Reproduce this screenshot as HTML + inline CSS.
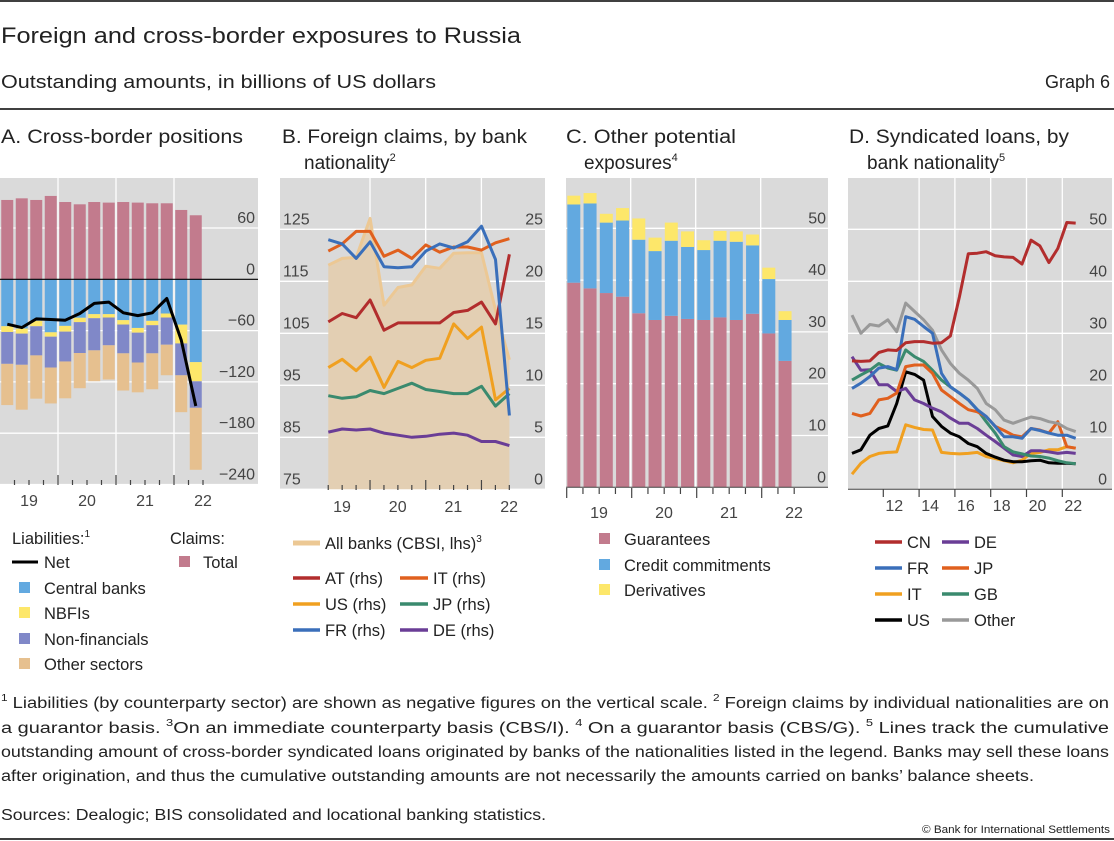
<!DOCTYPE html>
<html><head><meta charset="utf-8"><style>
html,body{margin:0;padding:0;background:#fff;}
svg{display:block;font-family:"Liberation Sans",sans-serif;}
.t{fill:#222;}
.ax{fill:#444;font-size:16px;}
</style></head><body>
<svg id="s" width="1114" height="841" viewBox="0 0 1114 841" xmlns="http://www.w3.org/2000/svg">
<line x1="0" y1="1" x2="1114" y2="1" stroke="#000" stroke-width="1.5"/>
<text x="1" y="43" font-size="22" class="t" textLength="520" lengthAdjust="spacingAndGlyphs">Foreign and cross-border exposures to Russia</text>
<text x="1" y="88" font-size="18" class="t" textLength="435" lengthAdjust="spacingAndGlyphs">Outstanding amounts, in billions of US dollars</text>
<text x="1110" y="88" font-size="18" class="t" text-anchor="end">Graph 6</text>
<line x1="0" y1="109" x2="1114" y2="109" stroke="#000" stroke-width="1.5"/>

<text x="1" y="143" font-size="19" class="t" textLength="242" lengthAdjust="spacingAndGlyphs">A. Cross-border positions</text>
<text x="282" y="143" font-size="19" class="t" textLength="245" lengthAdjust="spacingAndGlyphs">B. Foreign claims, by bank</text>
<text x="304" y="169" font-size="19" class="t">nationality<tspan font-size="11" dy="-8">2</tspan></text>
<text x="566" y="143" font-size="19" class="t" textLength="170" lengthAdjust="spacingAndGlyphs">C. Other potential</text>
<text x="584" y="169" font-size="19" class="t">exposures<tspan font-size="11" dy="-8">4</tspan></text>
<text x="849" y="143" font-size="19" class="t" textLength="220" lengthAdjust="spacingAndGlyphs">D. Syndicated loans, by</text>
<text x="867" y="169" font-size="19" class="t">bank nationality<tspan font-size="11" dy="-8">5</tspan></text>

<g id="charts"></g>

<!-- Legend A -->
<g>
<text x="12" y="544" font-size="16.5" class="t">Liabilities:<tspan font-size="10" dy="-7">1</tspan></text>
<text x="170" y="544" font-size="16.5" class="t">Claims:</text>
<line x1="12" y1="562" x2="38" y2="562" stroke="#000" stroke-width="3"/>
<text x="44" y="568" font-size="16.5" class="t">Net</text>
<rect x="19" y="582" width="11" height="11" fill="#62a9e0"/>
<text x="44" y="594" font-size="16.5" class="t">Central banks</text>
<rect x="19" y="607" width="11" height="11" fill="#fde76a"/>
<text x="44" y="619" font-size="16.5" class="t">NBFIs</text>
<rect x="19" y="633" width="11" height="11" fill="#8088c8"/>
<text x="44" y="645" font-size="16.5" class="t">Non-financials</text>
<rect x="19" y="658" width="11" height="11" fill="#e6c08f"/>
<text x="44" y="670" font-size="16.5" class="t">Other sectors</text>
<rect x="179" y="556" width="11" height="11" fill="#c27b8d"/>
<text x="203" y="568" font-size="16.5" class="t">Total</text>
</g>
<!-- Legend B -->
<g>
<line x1="293" y1="543" x2="320" y2="543" stroke="#ecc894" stroke-width="5"/>
<text x="325" y="549" font-size="16.5" class="t">All banks (CBSI, lhs)<tspan font-size="10" dy="-7">3</tspan></text>
<line x1="293" y1="578" x2="320" y2="578" stroke="#b22d2d" stroke-width="3.5"/>
<text x="325" y="584" font-size="16.5" class="t">AT (rhs)</text>
<line x1="293" y1="604" x2="320" y2="604" stroke="#f0a020" stroke-width="3.5"/>
<text x="325" y="610" font-size="16.5" class="t">US (rhs)</text>
<line x1="293" y1="630" x2="320" y2="630" stroke="#3a6fba" stroke-width="3.5"/>
<text x="325" y="636" font-size="16.5" class="t">FR (rhs)</text>
<line x1="400" y1="578" x2="428" y2="578" stroke="#e0601e" stroke-width="3.5"/>
<text x="433" y="584" font-size="16.5" class="t">IT (rhs)</text>
<line x1="400" y1="604" x2="428" y2="604" stroke="#3a8a6e" stroke-width="3.5"/>
<text x="433" y="610" font-size="16.5" class="t">JP (rhs)</text>
<line x1="400" y1="630" x2="428" y2="630" stroke="#6a3d96" stroke-width="3.5"/>
<text x="433" y="636" font-size="16.5" class="t">DE (rhs)</text>
</g>
<!-- Legend C -->
<g>
<rect x="599" y="533" width="11" height="11" fill="#c27b8d"/>
<text x="624" y="545" font-size="16.5" class="t">Guarantees</text>
<rect x="599" y="559" width="11" height="11" fill="#62a9e0"/>
<text x="624" y="571" font-size="16.5" class="t">Credit commitments</text>
<rect x="599" y="584" width="11" height="11" fill="#fde76a"/>
<text x="624" y="596" font-size="16.5" class="t">Derivatives</text>
</g>
<!-- Legend D -->
<g>
<line x1="875" y1="542" x2="902" y2="542" stroke="#b22d2d" stroke-width="3.5"/>
<text x="907" y="548" font-size="16.5" class="t">CN</text>
<line x1="875" y1="568" x2="902" y2="568" stroke="#3a6fba" stroke-width="3.5"/>
<text x="907" y="574" font-size="16.5" class="t">FR</text>
<line x1="875" y1="594" x2="902" y2="594" stroke="#f0a020" stroke-width="3.5"/>
<text x="907" y="600" font-size="16.5" class="t">IT</text>
<line x1="875" y1="620" x2="902" y2="620" stroke="#000" stroke-width="3.5"/>
<text x="907" y="626" font-size="16.5" class="t">US</text>
<line x1="942" y1="542" x2="969" y2="542" stroke="#6a3d96" stroke-width="3.5"/>
<text x="974" y="548" font-size="16.5" class="t">DE</text>
<line x1="942" y1="568" x2="969" y2="568" stroke="#e0601e" stroke-width="3.5"/>
<text x="974" y="574" font-size="16.5" class="t">JP</text>
<line x1="942" y1="594" x2="969" y2="594" stroke="#3a8a6e" stroke-width="3.5"/>
<text x="974" y="600" font-size="16.5" class="t">GB</text>
<line x1="942" y1="620" x2="969" y2="620" stroke="#999" stroke-width="3.5"/>
<text x="974" y="626" font-size="16.5" class="t">Other</text>
</g>

<g font-size="15.5" class="t">
<text x="1" y="708" textLength="1108" lengthAdjust="spacingAndGlyphs"><tspan font-size="10" dy="-7">1</tspan><tspan dy="7">  Liabilities (by counterparty sector) are shown as negative figures on the vertical scale.    </tspan><tspan font-size="10" dy="-7">2</tspan><tspan dy="7">  Foreign claims by individual nationalities are on</tspan></text>
<text x="1" y="733" textLength="1108" lengthAdjust="spacingAndGlyphs">a guarantor basis.   <tspan font-size="10" dy="-7">3</tspan><tspan dy="7">On an immediate counterparty basis (CBS/I).   </tspan><tspan font-size="10" dy="-7">4</tspan><tspan dy="7"> On a guarantor basis (CBS/G).   </tspan><tspan font-size="10" dy="-7">5</tspan><tspan dy="7"> Lines track the cumulative</tspan></text>
<text x="1" y="757" textLength="1108" lengthAdjust="spacingAndGlyphs">outstanding amount of cross-border syndicated loans originated by banks of the nationalities listed in the legend. Banks may sell these loans</text>
<text x="1" y="781" textLength="1033" lengthAdjust="spacingAndGlyphs">after origination, and thus the cumulative outstanding amounts are not necessarily the amounts carried on banks’ balance sheets.</text>
<text x="1" y="820" textLength="545" lengthAdjust="spacingAndGlyphs">Sources: Dealogic; BIS consolidated and locational banking statistics.</text>
</g>
<text x="1110" y="833" font-size="11" class="t" text-anchor="end" textLength="188" lengthAdjust="spacingAndGlyphs">© Bank for International Settlements</text>
<line x1="0" y1="839" x2="1114" y2="839" stroke="#000" stroke-width="1.5"/>
</svg>
<script>
// ---------- Panel A data ----------
const aYears = ["19","20","21","22"];
const aYTicks = [60,0,-60,-120,-180,-240];
const aClaims = [92.8,94.7,92.8,97.5,90.4,87.7,90.4,89.7,90.4,89.7,88.9,88.9,81.1,74.9];
const aCentral = [54.9,57.6,48.6,62,54.5,45,40.8,40.8,47.8,56.9,48.6,40,53,96.9];
const aNbfi = [6.7,5.9,6.3,5.1,6.7,5.1,4.7,3.9,5.1,5.5,5.1,4.7,22,22.4];
const aNonfin = [37.3,36.5,34.1,36.1,34.9,36.1,37.6,32.5,33.7,34.9,32.9,31.8,37.3,31];
const aOther = [48.2,52.5,50.6,42,43.1,41.2,36.1,40,43.5,34.9,42,35.7,43.1,72.5];
const aNet = [-52.5,-56.5,-46.3,-47,-47.8,-40,-28.2,-26.7,-39.2,-42.4,-39.2,-22.4,-71.4,-148.2];
// ---------- Panel B data ----------
const bYears = ["19","20","21","22"];
const bLTicks = [75,85,95,105,115,125];
const bRTicks = [0,5,10,15,20,25];
const bAll = [118.1,119.4,119.6,127.1,110.4,113.8,114.3,117.9,117.5,120.4,120.5,120.5,109.5,99.9];
const bFR = [24.0,23.6,22.2,23.8,21.4,21.3,21.4,22.9,23.6,23.2,23.8,25.3,22.1,7.1];
const bIT = [22.9,23.6,24.8,24.8,22.4,23.0,22.2,23.5,22.8,23.3,23.3,23.0,23.7,24.1];
const bAT = [16.1,16.9,16.5,18.2,15.3,16.0,16.0,16.0,16.0,17.0,17.2,18.0,15.9,22.6];
const bUS = [11.7,12.5,11.4,12.7,9.8,12.3,11.7,12.4,12.6,15.9,14.5,15.6,8.6,9.7];
const bJP = [9.0,8.75,8.9,9.5,9.2,9.7,10.2,9.6,9.4,9.2,9.2,9.9,8.0,9.2];
const bDE = [5.5,5.8,5.7,5.8,5.4,5.2,5.0,5.1,5.3,5.4,5.2,4.6,4.6,4.2];
// ---------- Panel C data ----------
const cYears = ["19","20","21","22"];
const cYTicks = [0,10,20,30,40,50];
const cGuar = [39.5,38.4,37.5,36.8,33.6,32.3,33.1,32.5,32.3,32.8,32.3,33.5,29.7,24.4];
const cCredit = [15.1,16.4,13.6,14.7,14.2,13.3,14.5,13.9,13.5,14.8,15.1,13.2,10.5,7.9];
const cDeriv = [1.7,2,1.7,2.4,4.1,2.6,3.5,3,1.9,1.9,2,2.1,2.2,1.7];
// ---------- Panel D data ----------
const dYearTicks = [2012,2014,2016,2018,2020,2022];
const dYTicks = [0,10,20,30,40,50];
const dTimes = [2010.25,2010.75,2011.25,2011.75,2012.25,2012.75,2013.25,2013.75,2014.25,2014.75,2015.25,2015.75,2016.25,2016.75,2017.25,2017.75,2018.25,2018.75,2019.25,2019.75,2020.25,2020.75,2021.25,2021.75,2022.25,2022.75];
const dCN = [24.7,24.6,24.7,26.3,26.8,26.7,28.2,28.4,28.4,28.1,28.2,29.5,37,45.3,45.4,45.7,44.9,44.7,44.6,43.3,47.9,46.8,43.6,46.3,51.3,51.2];
const dFR = [19.4,20.4,21.7,23.3,23.6,23,33.2,32.7,31.3,30,22.3,19.7,18.5,17.2,15.3,14,12.1,10.1,10.1,9.8,11.7,11.3,10.8,10.4,10.4,9.8];
const dOther = [33.5,30,31.7,31.4,32.6,30.3,35.8,34.2,32.6,30.6,26.8,24.2,22.3,21,19.4,16.5,15.3,13.3,12.7,13.3,13.9,13.6,13,12.7,11.7,11.1];
const dGB = [21,22,22.9,24.2,23.3,22.9,26.8,25.5,24.6,22.9,21,19.7,18.5,17.2,15.3,13,10.8,8.2,7.2,6.8,6.4,6.3,6,5.5,5.1,4.9];
const dJP = [14.6,14.1,14.6,17.2,17.5,18.5,23.6,23.9,23.9,22.3,19.1,17.8,16.5,15.3,14.9,14,12.1,11.3,10.4,10.1,11.7,11.4,10.8,13,8.2,7.9];
const dDE = [25.5,22.9,23,20.1,20.1,18.8,19.4,17.2,16.5,15.6,14.9,13.7,12.7,12.7,11.7,10.4,9.2,7.9,6.6,6.3,7.4,7.4,7.2,6.9,7.1,6.9];
const dUS = [6.9,7.6,10.4,11.7,12.2,16.5,22.6,22.1,21,14,12.1,10.8,10.1,8.8,8.2,6.9,6.2,5.6,5.3,5.3,5.5,5.6,5.1,5,5,4.9];
const dIT = [2.9,5,6.3,6.9,7.1,7.2,12.4,11.9,11.5,11.4,7.1,6.9,6.8,6.9,7.1,6.3,5.9,5.5,5.1,5.6,6.9,7.1,7.6,7.6,8.2,7.9];

const NS = "http://www.w3.org/2000/svg";
const root = document.getElementById("charts");
function mk(tag, parent){ const e=document.createElementNS(NS,tag); parent.appendChild(e); return e; }
function group(parent){ return mk("g",parent); }
function rect(p,x,y,w,h,fill){ const r=mk("rect",p); r.setAttribute("x",x); r.setAttribute("y",y); r.setAttribute("width",w); r.setAttribute("height",h); r.setAttribute("fill",fill); return r; }
function line(p,x1,y1,x2,y2,stroke,w){ const l=mk("line",p); l.setAttribute("x1",x1); l.setAttribute("y1",y1); l.setAttribute("x2",x2); l.setAttribute("y2",y2); l.setAttribute("stroke",stroke); l.setAttribute("stroke-width",w); return l; }
function text(p,x,y,s,anchor){ const t=mk("text",p); t.setAttribute("x",x); t.setAttribute("y",y); t.setAttribute("class","ax"); if(anchor) t.setAttribute("text-anchor",anchor); t.textContent=s; return t; }
function poly(p,pts,stroke,w){ const pl=mk("polyline",p); pl.setAttribute("points",pts.map(q=>q[0].toFixed(1)+","+q[1].toFixed(1)).join(" ")); pl.setAttribute("fill","none"); pl.setAttribute("stroke",stroke); pl.setAttribute("stroke-width",w); pl.setAttribute("stroke-linejoin","round"); return pl; }
function fmt(v){ return v<0 ? "\u2212"+Math.abs(v) : String(v); }

// ===== Panel A =====
const gA = group(root);


const xA = i => 7.25 + i*14.5;
const yA = v => 279.3 - v*0.855;
const bgA = rect(gA,0,178,258,307,"#dadada");


aYTicks.forEach(v=>{
  if(v!==0){ const gl=line(gA,0,yA(v),258,yA(v),"#fff",1.3);
    
     }
  const t=text(gA,255,yA(v)-5,fmt(v),"end");
  
  
});
for(let k=1;k<4;k++){ const gl=line(gA,k*58,178,k*58,485,"#fff",1.3);
  
   }
aClaims.forEach((v,i)=>{
  const x=xA(i)-6;
  const b1=rect(gA,x,yA(v),12,yA(0)-yA(v),"#c27b8d");
  
  
  let base=0;
  const segs=[[aCentral[i],"#62a9e0","bar-central-banks"],[aNbfi[i],"#fde76a","bar-nbfis"],[aNonfin[i],"#8088c8","bar-non-financials"],[aOther[i],"#e6c08f","bar-other-sectors"]];
  segs.forEach(s=>{
    const top=yA(-base), bot=yA(-(base+s[0]));
    const r=rect(gA,x,top,12,bot-top,s[1]);
    
    
    base+=s[0];
  });
});
const zA=line(gA,0,yA(0),258,yA(0),"#000",1.2);


const netL=poly(gA,aNet.map((v,i)=>[xA(i),yA(v)]),"#000",3);


for(let k=1;k<=14;k++){ const tk=line(gA,k*14.5,485,k*14.5,k%4===0?475:480,"#444",1.2);
  
   }
aYears.forEach((s,j)=>{ const t=text(gA,29+j*58,506,s,"middle");
  
   });

// ===== Panel B =====
const gB = group(root);


const xB = i => 328.3 + i*13.93;
const yL = v => 489.3 - (v-75)*5.2;
const yR = v => 489.3 - v*10.4;
const bgB = rect(gB,280,178,265,312,"#dadada");


bLTicks.forEach((v,j)=>{
  const gl=line(gB,280,yL(v),545,yL(v),"#fff",1.3);
  
  
  const t=text(gB,283,yL(v)-5,String(v));
  
  
  const t2=text(gB,543,yR(bRTicks[j])-5,String(bRTicks[j]),"end");
  
  
});
for(let k=1;k<4;k++){ const gl=line(gB,314.3+k*55.7,178,314.3+k*55.7,490,"#fff",1.3);
  
   }
const areaPts = bAll.map((v,i)=>[xB(i),yL(v)]);
const area = mk("polygon",gB);
area.setAttribute("points", areaPts.map(q=>q[0].toFixed(1)+","+q[1].toFixed(1)).join(" ")+" "+xB(bAll.length-1)+","+yL(75)+" "+xB(0)+","+yL(75));
area.setAttribute("fill","#e3cfb3");


const allL = poly(gB,areaPts,"#ecc894",3);


const bSeries=[[bDE,"#6a3d96","line-de"],[bJP,"#3a8a6e","line-jp"],[bUS,"#f0a020","line-us"],[bAT,"#b22d2d","line-at"],[bIT,"#e0601e","line-it"],[bFR,"#3a6fba","line-fr"]];
bSeries.forEach(s=>{
  const pl=poly(gB,s[0].map((v,i)=>[xB(i),yR(v)]),s[1],3);
  
  
});
for(let k=1;k<=14;k++){ const x=314.3+k*13.93; const tk=line(gB,x,490,x,k%4===0?480:485,"#444",1.2);
  
   }
bYears.forEach((s,j)=>{ const t=text(gB,342+j*55.7,512,s,"middle");
  
   });

// ===== Panel C =====
const gC = group(root);


const xC = i => 573.8 + i*16.25;
const yC = v => 487.3 - v*5.18;
const bgC = rect(gC,566,178,262,309,"#dadada");


cYTicks.forEach(v=>{
  if(v!==0){ const gl=line(gC,566,yC(v),828,yC(v),"#fff",1.3);
    
     }
  const t=text(gC,826,yC(v)-5,String(v),"end");
  
  
});
for(let k=1;k<4;k++){ const gl=line(gC,565.7+k*65,178,565.7+k*65,487,"#fff",1.3);
  
   }
cGuar.forEach((v,i)=>{
  const x=xC(i)-6.5; let base=0;
  const segs=[[v,"#c27b8d","bar-guarantees"],[cCredit[i],"#62a9e0","bar-credit-commitments"],[cDeriv[i],"#fde76a","bar-derivatives"]];
  segs.forEach(s=>{
    const top=yC(base+s[0]), bot=yC(base);
    const r=rect(gC,x,top,13,bot-top,s[1]);
    
    
    base+=s[0];
  });
});
const axC=line(gC,566,487.3,828,487.3,"#444",1);


for(let k=0;k<=14;k++){ const x=566.7+k*16.25; const tk=line(gC,x,488,x,k%4===0?498:494,"#444",1.2);
  
   }
cYears.forEach((s,j)=>{ const t=text(gC,599+j*65,518,s,"middle");
  
   });

// ===== Panel D =====
const gD = group(root);


const xD = t => 883.3 + (t-2012)*17.9;
const yD = v => 489.3 - v*5.2;
const bgD = rect(gD,848,178,264,311,"#dadada");


dYTicks.forEach(v=>{
  if(v!==0){ const gl=line(gD,848,yD(v),1112,yD(v),"#fff",1.3);
    
     }
  const t=text(gD,1107,yD(v)-5,String(v),"end");
  
  
});
dYearTicks.forEach(y=>{
  if(y>2012){ const gl=line(gD,xD(y),178,xD(y),489,"#fff",1.3);
    
     }
});
const dSeries=[[dIT,"#f0a020","line-d-it"],[dUS,"#000","line-d-us"],[dDE,"#6a3d96","line-d-de"],[dGB,"#3a8a6e","line-d-gb"],[dJP,"#e0601e","line-d-jp"],[dOther,"#999","line-d-other"],[dFR,"#3a6fba","line-d-fr"],[dCN,"#b22d2d","line-d-cn"]];
dSeries.forEach(s=>{
  const pl=poly(gD,s[0].map((v,i)=>[xD(dTimes[i]),yD(v)]),s[1],3);
  
  
});
const axD=line(gD,848,489.3,1112,489.3,"#444",1);


dYearTicks.forEach(y=>{
  const tk=line(gD,xD(y),489,xD(y),497,"#444",1.2);
  
  
  const t=text(gD,xD(y)+11,511,String(y).slice(2),"middle");
  
  
});
</script>
</body></html>
